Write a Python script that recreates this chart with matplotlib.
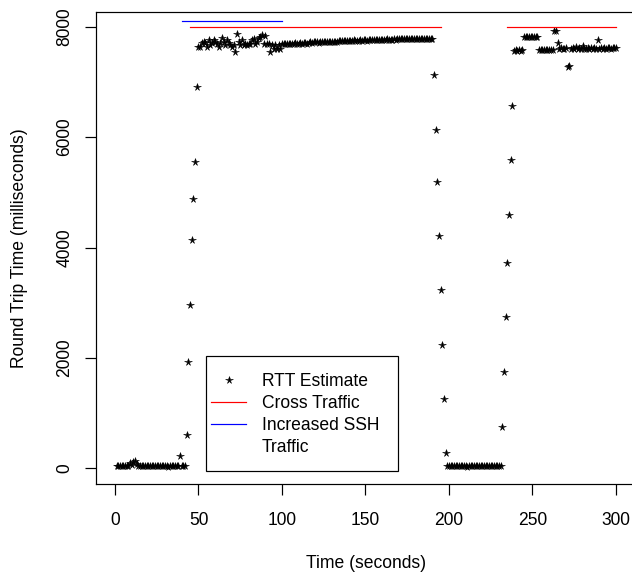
import matplotlib
matplotlib.use('Agg')
import matplotlib.pyplot as plt
import numpy as np
from matplotlib.lines import Line2D
from matplotlib.patches import Rectangle

plt.rcParams['font.family'] = ['Liberation Sans', 'DejaVu Sans']

# ---------------- data ----------------
# one RTT estimate per second, t = 1 .. 300
times = np.arange(1, 301)

idle_1 = [40, 38, 42, 40, 39, 41, 40, 38,
          90, 60, 120, 140, 70,
          40, 42, 38, 40, 41, 39, 40, 42, 38, 40, 41, 39, 40, 40, 38, 42,
          40, 39, 30, 41, 40, 38, 42, 40, 39]                       # t 1-38
ssh_bump = [218, 40, 41, 39, 600]                                   # t 39-43
ramp_up_1 = [1930, 2960, 4140, 4870, 5540, 6910]                    # t 44-49
congested_1 = [7640, 7640, 7700, 7730, 7700, 7640, 7750, 7670, 7700, 7750,
               7720, 7690, 7640, 7700, 7790, 7730, 7670, 7750, 7700, 7670,
               7640, 7660, 7550, 7870, 7730, 7670, 7750, 7670, 7690, 7670,
               7690, 7680, 7750, 7770, 7690, 7730, 7790, 7820, 7850, 7690,
               7830, 7680, 7690, 7550, 7670, 7590, 7670, 7590, 7670, 7590,
               7690, 7690, 7690, 7690]                              # t 50-103
congested_2 = [7690, 7695, 7690, 7695, 7700, 7695, 7690, 7700, 7695, 7700,
               7700, 7695, 7700,
               7715, 7710, 7715, 7720, 7715, 7710, 7715, 7720, 7715, 7720,
               7715, 7720, 7725, 7720, 7725, 7730, 7725,
               7740, 7735, 7740, 7745, 7740, 7740, 7745, 7740, 7745, 7750,
               7745, 7740, 7745, 7750, 7745, 7750, 7750, 7745,
               7760, 7755, 7760, 7755, 7760, 7765, 7760, 7760, 7765, 7760,
               7765, 7770, 7765, 7760, 7765, 7770, 7765, 7770,
               7775, 7770, 7775, 7770, 7775, 7780, 7775, 7770, 7775, 7780,
               7775, 7775, 7780, 7775, 7780, 7775, 7780, 7775, 7780, 7775,
               7770]                                                # t 104-190
drain_1 = [7125, 6130, 5190, 4215, 3230, 2235, 1255, 280]           # t 191-198
idle_2 = [40, 41, 39, 40, 42, 38, 40, 41, 39, 40, 40, 38, 20, 41, 40,
          39, 42, 40, 38, 40, 41, 39, 40, 42, 38, 40, 41, 39, 40, 40,
          38, 41, 40]                                               # t 199-231
ramp_up_2 = [755, 1750, 2740, 3725, 4590, 5585, 6570]              # t 232-238
congested_3 = [7565, 7570, 7560, 7575, 7565, 7570,
               7810, 7805, 7815, 7810, 7805, 7810, 7815, 7810, 7805,
               7580, 7575, 7585, 7580, 7575, 7580, 7585, 7580, 7575,
               7930, 7925, 7700,
               7600, 7605, 7595, 7600, 7605,
               7275, 7280,
               7600, 7605, 7595, 7640, 7600, 7605, 7600, 7650, 7600, 7595,
               7610, 7600, 7605, 7600, 7620, 7600, 7760, 7600, 7605, 7600,
               7610, 7600, 7605, 7620, 7600, 7605, 7610, 7620]      # t 239-300

rtt = np.array(idle_1 + ssh_bump + ramp_up_1 + congested_1 + congested_2 +
               drain_1 + idle_2 + ramp_up_2 + congested_3)

cross_start = [45, 235]
cross_end = [195, 300]
cross_level = 8000
ssh_start, ssh_end, ssh_level = 40, 100, 8100

xticks = [0, 50, 100, 150, 200, 250, 300]
yticks = [0, 2000, 4000, 6000, 8000]

# ---------------- figure ----------------
W, H = 632, 573
FS = 17.5
LW = 1.2
MS = 7.5
fig = plt.figure(figsize=(W / 72, H / 72), dpi=72)


def fx(px):
    return px / W


def fy(py):
    return 1 - py / H


ax = fig.add_axes([fx(96.3), fy(484), (636 - 96.3) / W, (484 - 12) / H])
ax.plot(times, rtt, linestyle='none', marker='*', color='black',
        markersize=MS, markeredgewidth=0.5)
for s, e in zip(cross_start, cross_end):
    ax.plot([s, e], [cross_level, cross_level], color='#ff0000', lw=LW)
ax.plot([ssh_start, ssh_end], [ssh_level, ssh_level], color='#0000ff', lw=LW)

ax.set_xlim(-11.2, 312)
ax.set_ylim(-284, 8266)
ax.set_xticks(xticks)
ax.set_xticklabels([str(v) for v in xticks])
ax.set_yticks(yticks)
ax.set_yticklabels([str(v) for v in yticks], rotation=90, va='center')
ax.tick_params(axis='both', length=11, width=LW, labelsize=FS, direction='out')
ax.tick_params(axis='x', pad=17)
ax.tick_params(axis='y', pad=12)
for sp in ax.spines.values():
    sp.set_linewidth(LW)

ax.set_xlabel('Time (seconds)', fontsize=FS, va='center')
ax.xaxis.set_label_coords(0.5, (484 - 563) / (484 - 12))
ax.set_ylabel('Round Trip Time (milliseconds)', fontsize=FS, va='center')
ax.yaxis.set_label_coords((19 - 96.3) / (636 - 96.3), 0.5)

# legend
handles = [
    Line2D([], [], linestyle='none', marker='*', color='black', markersize=MS,
           markeredgewidth=0.5),
    Line2D([], [], color='#ff0000', lw=LW),
    Line2D([], [], color='#0000ff', lw=LW),
    Line2D([], [], linestyle='none'),
]
labels = ['RTT Estimate', 'Cross Traffic', 'Increased SSH', 'Traffic']
fig.add_artist(Rectangle((fx(206), fy(471)), (398 - 206) / W, (471 - 356) / H,
                         transform=fig.transFigure, facecolor='white',
                         edgecolor='black', lw=LW, zorder=5))
leg = ax.legend(handles, labels, loc='upper left',
                bbox_to_anchor=(fx(211), fy(373)), bbox_transform=fig.transFigure,
                frameon=False, borderpad=0, borderaxespad=0,
                handlelength=2.0, handletextpad=0.91, labelspacing=0.29,
                fontsize=FS)
leg.set_zorder(6)
fig.add_artist(leg)

fig.savefig('out.png', dpi=72)
